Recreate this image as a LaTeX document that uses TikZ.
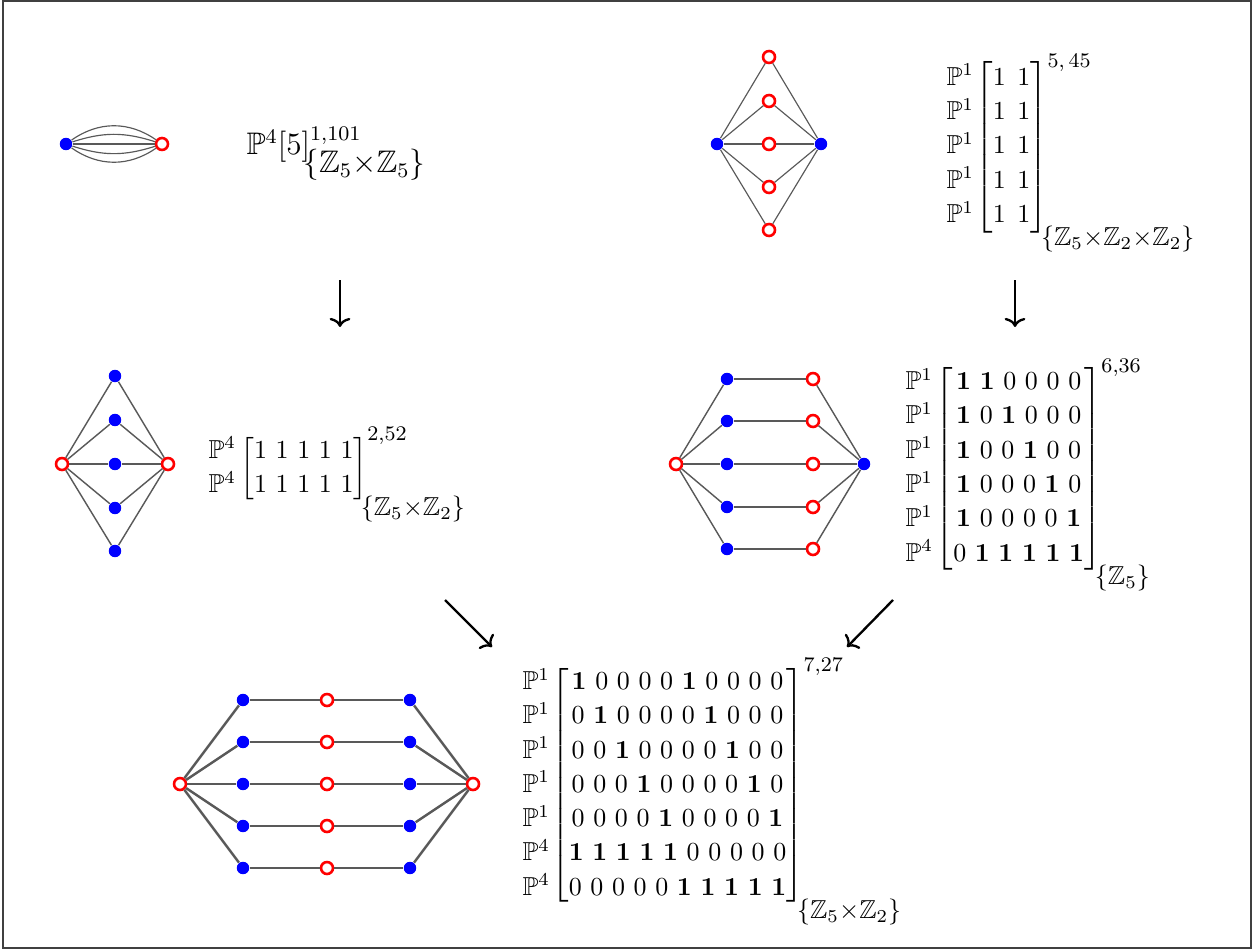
\documentclass[tikz,border=0pt]{standalone}
\usepackage{amsmath,amssymb}
\usetikzlibrary{arrows.meta}
\newcommand{\PP}{\mathbb{P}}
\newcommand{\ZZ}{\mathbb{Z}}
\newcommand{\bo}{\mathbf{1}}
\newcommand{\gq}{\ }
\newcommand{\gw}{\mkern8mu}
\newcommand{\grp}[1]{\textstyle\lower4.5pt\hbox{\kern-2.5pt$\{#1\}$}}
\newcommand{\tm}{{\times}}
\renewcommand{\arraystretch}{1.1}
\begin{document}
\begin{tikzpicture}[x=0.385pt,y=-0.385pt,
  bdot/.style={circle,fill=blue,inner sep=0pt,minimum size=4.8pt},
  rdot/.style={circle,draw=red,fill=white,line width=1pt,inner sep=0pt,minimum size=4.6pt},
  thinedge/.style={draw=black!65,line width=0.45pt},
  midedge/.style={draw=black!65,line width=0.55pt},
  thickedge/.style={draw=black!65,line width=0.95pt},
  flow/.style={line width=0.9pt,-{To[length=3.5pt,width=8pt]}},
  formula/.style={inner sep=0pt,anchor=base west}]
\useasboundingbox (0,0) rectangle (1255,951);
\draw[black!75,line width=0.5pt] (3,1) rectangle (1251,948);

% ---------- top left ----------
\node[bdot] (tla) at (66,144) {};
\node[rdot] (tlb) at (162,144) {};
\draw[thinedge] (tla) to[bend left=35] (tlb);
\draw[thinedge] (tla) to[bend left=18] (tlb);
\draw[thinedge] (tla) -- (tlb);
\draw[thinedge] (tla) to[bend right=18] (tlb);
\draw[thinedge] (tla) to[bend right=35] (tlb);
\node[formula,font=\large] (tlf) at (246,155)
  {$\PP^4[5]^{1{,}101}_{\grp{\ZZ_5\tm\ZZ_5}}$};

% ---------- top right ----------
\node[bdot] (tra) at (717,144) {};
\node[bdot] (trb) at (821,144) {};
\foreach \i/\y in {1/57,2/101,3/144,4/187,5/230}{
  \node[rdot] (trr\i) at (769,\y) {};
  \draw[thinedge] (tra) -- (trr\i);
  \draw[thinedge] (trr\i) -- (trb);
}
\node[formula] (trf) at (946,153.5)
  {$\begin{array}{@{}c@{}}\PP^1\\\PP^1\\\PP^1\\\PP^1\\\PP^1\end{array}\mkern-2mu
   \left[\begin{array}{@{}c@{}}1\gw1\\1\gw1\\1\gw1\\1\gw1\\1\gw1\end{array}\right]^{\text{\footnotesize$5,45$}}_{\grp{\ZZ_5\tm\ZZ_2\tm\ZZ_2}}$};

% ---------- arrows ----------
\coordinate (a1s) at (340,280); \coordinate (a1e) at (340,327);
\coordinate (a2s) at (1015,280); \coordinate (a2e) at (1015,327);
\coordinate (a3s) at (445,600); \coordinate (a3e) at (492,647);
\coordinate (a4s) at (893,600); \coordinate (a4e) at (847,647);
\draw[flow] (a1s) -- (a1e);
\draw[flow] (a2s) -- (a2e);
\draw[flow] (a3s) -- (a3e);
\draw[flow] (a4s) -- (a4e);

% ---------- middle left ----------
\node[rdot] (mla) at (62,464) {};
\node[rdot] (mlb) at (168,464) {};
\foreach \i/\y in {1/376,2/420,3/464,4/508,5/551}{
  \node[bdot] (mlr\i) at (115,\y) {};
  \draw[midedge] (mla) -- (mlr\i);
  \draw[midedge] (mlr\i) -- (mlb);
}
\node[formula] (mlf) at (208,475)
  {$\begin{array}{@{}c@{}}\PP^4\\\PP^4\end{array}
   \left[\begin{array}{@{}c@{}}1\gq1\gq1\gq1\gq1\\1\gq1\gq1\gq1\gq1\end{array}\right]^{\text{\footnotesize$2{,}52$}}_{\grp{\ZZ_5\tm\ZZ_2}}$};

% ---------- middle right ----------
\node[rdot] (mra) at (676,464) {};
\node[bdot] (mrb) at (864,464) {};
\foreach \i/\y in {1/379,2/421,3/464,4/507,5/549}{
  \node[bdot] (mrl\i) at (727,\y) {};
  \node[rdot] (mrr\i) at (813,\y) {};
  \draw[midedge] (mra) -- (mrl\i);
  \draw[midedge] (mrl\i) -- (mrr\i);
  \draw[midedge] (mrr\i) -- (mrb);
}
\node[formula] (mrf) at (905,475)
  {$\begin{array}{@{}c@{}}\PP^1\\\PP^1\\\PP^1\\\PP^1\\\PP^1\\\PP^4\end{array}\mkern-1mu
   \left[\begin{array}{@{}c@{}}
   \bo\gq\bo\gq0\gq0\gq0\gq0\\
   \bo\gq0\gq\bo\gq0\gq0\gq0\\
   \bo\gq0\gq0\gq\bo\gq0\gq0\\
   \bo\gq0\gq0\gq0\gq\bo\gq0\\
   \bo\gq0\gq0\gq0\gq0\gq\bo\\
   0\gq\bo\gq\bo\gq\bo\gq\bo\gq\bo
   \end{array}\right]^{\text{\footnotesize$6{,}36$}}_{\grp{\ZZ_5}}$};

% ---------- bottom ----------
\node[rdot] (bta) at (180,784) {};
\node[rdot] (btb) at (473,784) {};
\foreach \i/\y in {1/700,2/742,3/784,4/826,5/868}{
  \node[bdot] (btl\i) at (243,\y) {};
  \node[rdot] (btm\i) at (327,\y) {};
  \node[bdot] (btr\i) at (410,\y) {};
  \draw[thickedge] (bta) -- (btl\i);
  \draw[thickedge] (btl\i) -- (btm\i);
  \draw[thickedge] (btm\i) -- (btr\i);
  \draw[thickedge] (btr\i) -- (btb);
}
\node[formula] (btf) at (522,792)
  {$\begin{array}{@{}c@{}}\PP^1\\\PP^1\\\PP^1\\\PP^1\\\PP^1\\\PP^4\\\PP^4\end{array}\mkern-2mu
   \left[\begin{array}{@{}c@{}}
   \bo\gq0\gq0\gq0\gq0\gq\bo\gq0\gq0\gq0\gq0\\
   0\gq\bo\gq0\gq0\gq0\gq0\gq\bo\gq0\gq0\gq0\\
   0\gq0\gq\bo\gq0\gq0\gq0\gq0\gq\bo\gq0\gq0\\
   0\gq0\gq0\gq\bo\gq0\gq0\gq0\gq0\gq\bo\gq0\\
   0\gq0\gq0\gq0\gq\bo\gq0\gq0\gq0\gq0\gq\bo\\
   \bo\gq\bo\gq\bo\gq\bo\gq\bo\gq0\gq0\gq0\gq0\gq0\\
   0\gq0\gq0\gq0\gq0\gq\bo\gq\bo\gq\bo\gq\bo\gq\bo
   \end{array}\right]^{\text{\footnotesize$7{,}27$}}_{\grp{\ZZ_5\tm\ZZ_2}}$};
\end{tikzpicture}
\end{document}
